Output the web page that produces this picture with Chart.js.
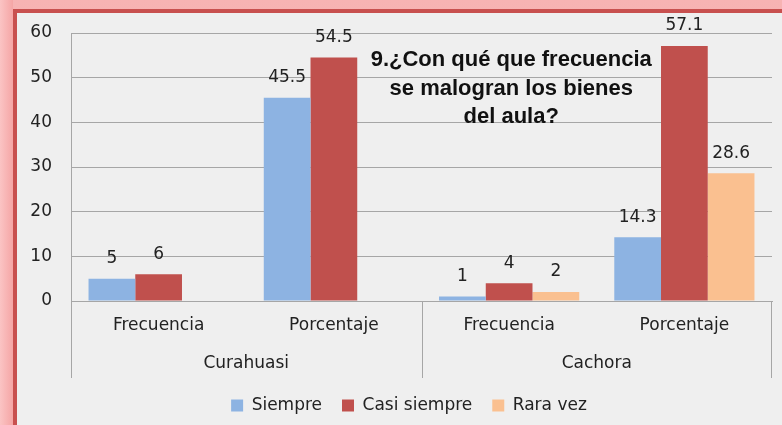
<!DOCTYPE html>
<html>
<head>
<meta charset="utf-8">
<script src="https://cdn.jsdelivr.net/npm/chart.js@4.4.1/dist/chart.umd.min.js"></script>
<style>
  html, body { margin: 0; padding: 0; width: 782px; height: 425px; overflow: hidden; }
  body { background: linear-gradient(to right, #fbc4c4, #f5a5a5 13px, transparent 13px), linear-gradient(#f7b3b3, #f29c9c); position: relative; }
  #frame { position: absolute; left: 13px; top: 9px; width: 800px; height: 430px; background: #efefef; border-left: 4px solid #c8504f; border-top: 4px solid #c8504f; }
  #wrap { position: absolute; left: 0; top: 0; width: 818px; height: 425px; }
</style>
</head>
<body>
<div id="frame"></div>
<div id="wrap"><canvas id="chart"></canvas></div>
<script>
// categorías (dos niveles) y series
const subLabels = ["Frecuencia", "Porcentaje", "Frecuencia", "Porcentaje"];
const groups = ["Curahuasi", "Cachora"];
const siempre = [5, 45.5, 1, 14.3];
const casiSiempre = [6, 54.5, 4, 57.1];
const raraVez = [null, null, 2, 28.6];
const yTicks = [0, 10, 20, 30, 40, 50, 60];
const titleLines = ["9.¿Con qué que frecuencia", "se malogran los bienes", "del aula?"];

const FONT = "'DejaVu Sans', Verdana, sans-serif";
const TXT = "#222";

// etiquetas de valor, títulos de grupo y separadores
const extras = {
  id: "extras",
  afterLayout(chart) {
    // la leyenda va centrada algo más a la derecha, como en Excel
    if (chart.legend) chart.legend.left += 46;
  },
  afterDatasetsDraw(chart) {
    const ctx = chart.ctx;
    const area = chart.chartArea;
    const x = chart.scales.x;
    ctx.save();
    ctx.font = "17px " + FONT;
    ctx.fillStyle = TXT;
    ctx.textAlign = "center";
    ctx.textBaseline = "middle";
    chart.data.datasets.forEach((ds, i) => {
      chart.getDatasetMeta(i).data.forEach((bar, j) => {
        if (ds.data[j] == null) return;
        ctx.fillText(String(ds.data[j]), bar.x, bar.y - 20);
      });
    });

    // separadores de grupo
    const half = (x.getPixelForTick(1) + x.getPixelForTick(2)) / 2;
    const bottom = area.bottom + 77;
    ctx.strokeStyle = "#a6a6a6";
    ctx.lineWidth = 1;
    [area.left + 0.5, Math.round(half) + 0.5, area.right - 0.5].forEach(px => {
      ctx.beginPath();
      ctx.moveTo(px, area.bottom);
      ctx.lineTo(px, bottom);
      ctx.stroke();
    });

    // nombres de grupo
    ctx.fillStyle = TXT;
    ctx.fillText(groups[0], (area.left + half) / 2, area.bottom + 63);
    ctx.fillText(groups[1], (half + area.right) / 2, area.bottom + 63);

    // título dentro del gráfico
    ctx.font = "bold 22px 'Liberation Sans', Arial, sans-serif";
    ctx.fillStyle = "#111";
    const cx = area.left + (area.right - area.left) * 0.628;
    titleLines.forEach((t, k) => ctx.fillText(t, cx, area.top + 27 + k * 28.5));
    ctx.restore();
  }
};

new Chart(document.getElementById("chart"), {
  type: "bar",
  data: {
    labels: subLabels,
    datasets: [
      { label: "Siempre", data: siempre, backgroundColor: "#8db3e2" },
      { label: "Casi siempre", data: casiSiempre, backgroundColor: "#c0504d" },
      { label: "Rara vez", data: raraVez, backgroundColor: "#fac090" }
    ]
  },
  options: {
    responsive: true,
    maintainAspectRatio: false,
    animation: false,
    categoryPercentage: 0.8,
    barPercentage: 1,
    layout: { padding: { top: 33, right: 46, bottom: 1, left: 0 } },
    plugins: {
      legend: {
        position: "bottom",
        labels: {
          font: { family: FONT, size: 17 },
          color: TXT,
          boxWidth: 12,
          boxHeight: 12,
          padding: 20
        }
      },
      tooltip: { enabled: false }
    },
    scales: {
      x: {
        grid: { display: false, drawTicks: false },
        border: { color: "#a6a6a6" },
        ticks: { font: { family: FONT, size: 17 }, color: TXT, padding: 14, maxRotation: 0 },
        afterFit(s) { s.height = 76; }
      },
      y: {
        min: 0,
        max: 60,
        afterBuildTicks(s) { s.ticks = yTicks.map(v => ({ value: v })); },
        grid: { color: "#a6a6a6", drawTicks: false },
        border: { color: "#a6a6a6" },
        ticks: { font: { family: FONT, size: 17 }, color: TXT, padding: 19 },
        afterFit(s) { s.width = 71; }
      }
    }
  },
  plugins: [extras]
});
</script>
</body>
</html>
